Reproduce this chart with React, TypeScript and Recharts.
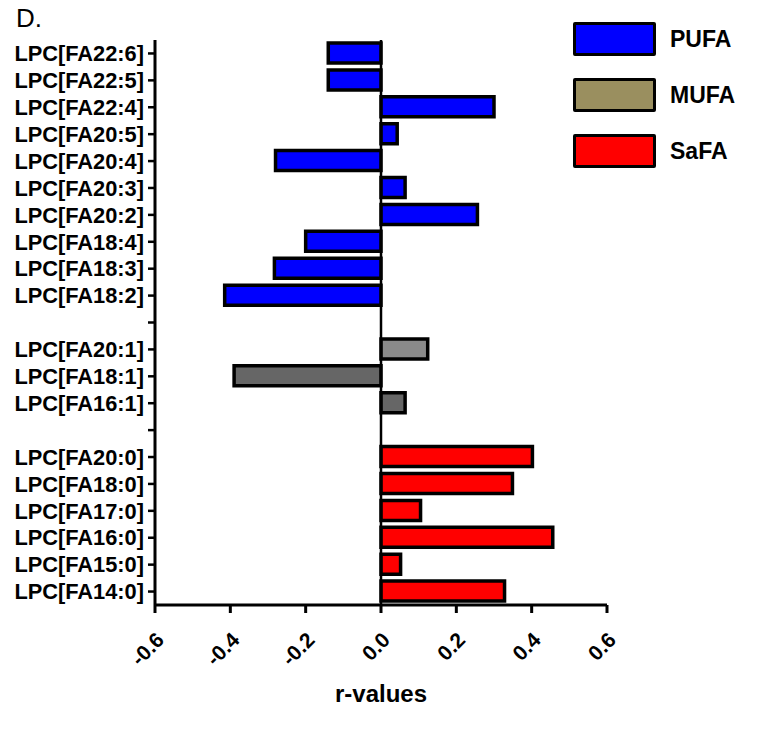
import {
  Bar,
  BarChart,
  Cell,
  ReferenceLine,
  XAxis,
  YAxis,
} from "recharts";

const pufaNames = [
  "LPC[FA22:6]",
  "LPC[FA22:5]",
  "LPC[FA22:4]",
  "LPC[FA20:5]",
  "LPC[FA20:4]",
  "LPC[FA20:3]",
  "LPC[FA20:2]",
  "LPC[FA18:4]",
  "LPC[FA18:3]",
  "LPC[FA18:2]",
];
const pufaValues = [-0.14, -0.14, 0.3, 0.043, -0.28, 0.064, 0.256, -0.2, -0.283, -0.415];

const mufaNames = ["LPC[FA20:1]", "LPC[FA18:1]", "LPC[FA16:1]"];
const mufaValues = [0.124, -0.39, 0.064];

const safaNames = [
  "LPC[FA20:0]",
  "LPC[FA18:0]",
  "LPC[FA17:0]",
  "LPC[FA16:0]",
  "LPC[FA15:0]",
  "LPC[FA14:0]",
];
const safaValues = [0.402, 0.349, 0.105, 0.456, 0.052, 0.328];

const xTicks = [-0.6, -0.4, -0.2, 0.0, 0.2, 0.4, 0.6];
const legendNames = ["PUFA", "MUFA", "SaFA"];

const groupColor: Record<string, string> = {
  PUFA: "#0000ff",
  MUFA: "#9a8f5f",
  SaFA: "#ff0000",
};
// the MUFA bars themselves are drawn in greys
const mufaShade: Record<string, string> = {
  "LPC[FA20:1]": "#8a8a8a",
  "LPC[FA18:1]": "#666666",
  "LPC[FA16:1]": "#666666",
};

type Row = { name: string; value: number | null; group: string };

const rows: Row[] = [
  ...pufaNames.map((n, i) => ({ name: n, value: pufaValues[i], group: "PUFA" })),
  { name: "gap-1", value: null, group: "" },
  ...mufaNames.map((n, i) => ({ name: n, value: mufaValues[i], group: "MUFA" })),
  { name: "gap-2", value: null, group: "" },
  ...safaNames.map((n, i) => ({ name: n, value: safaValues[i], group: "SaFA" })),
];

const FONT = "'Liberation Sans', Arial, sans-serif";

const XTick = (props: any) => {
  const { x, y, payload } = props;
  return (
    <text
      transform={`translate(${x + 5},${y + 21}) rotate(-45)`}
      textAnchor="end"
      dominantBaseline="central"
      fontFamily={FONT}
      fontWeight={700}
      fontSize={21}
      fill="#000"
    >
      {Number(payload.value).toFixed(1)}
    </text>
  );
};

const LegendBox = () => (
  <div style={{ position: "absolute", left: 573, top: 11, fontFamily: FONT }}>
    {legendNames.map((n) => (
      <div
        key={n}
        style={{ display: "flex", alignItems: "center", height: 56 }}
      >
        <div
          style={{
            width: 77,
            height: 28,
            background: groupColor[n],
            border: "3px solid #000",
            borderRadius: 2,
          }}
        />
        <span
          style={{
            marginLeft: 14,
            fontSize: 23,
            fontWeight: 700,
            color: "#000",
          }}
        >
          {n}
        </span>
      </div>
    ))}
  </div>
);

const App = () => {
  return (
    <div style={{ position: "relative", margin: -8, width: 782, height: 732, background: "#fff" }}>
      <div
        style={{
          position: "absolute",
          left: 16,
          top: 3,
          fontFamily: FONT,
          fontSize: 26,
          color: "#000",
        }}
      >
        D.
      </div>
      <BarChart
        width={782}
        height={732}
        data={rows}
        layout="vertical"
        margin={{ top: 40, right: 175, left: 0, bottom: 30 }}
        barSize={20}
      >
        <XAxis
          type="number"
          domain={[-0.6, 0.6]}
          ticks={xTicks}
          interval={0}
          height={97}
          axisLine={{ stroke: "#000", strokeWidth: 3 }}
          tickLine={{ stroke: "#000", strokeWidth: 3 }}
          tickSize={8}
          tick={<XTick />}
          label={{
            value: "r-values",
            position: "insideBottom",
            offset: 0,
            style: { fontFamily: FONT, fontWeight: 700, fontSize: 24, fill: "#000" },
          }}
        />
        <YAxis
          type="category"
          dataKey="name"
          width={155}
          interval={0}
          axisLine={{ stroke: "#000", strokeWidth: 3 }}
          tickLine={{ stroke: "#000", strokeWidth: 2.5 }}
          tickSize={7}
          tickMargin={4}
          tickFormatter={(v: string) => (v.startsWith("gap") ? "" : v)}
          tick={{ fill: "#000", fontSize: 21.8, fontWeight: 700, fontFamily: FONT }}
        />
        <ReferenceLine x={0} stroke="#000" strokeWidth={2.5} />
        <Bar dataKey="value" stroke="#000" strokeWidth={3.5} isAnimationActive={false}>
          {rows.map((r, i) => (
            <Cell
              key={`cell-${i}`}
              fill={r.group === "MUFA" ? mufaShade[r.name] : groupColor[r.group] || "none"}
            />
          ))}
        </Bar>
      </BarChart>
      <LegendBox />
    </div>
  );
};

export default App;
